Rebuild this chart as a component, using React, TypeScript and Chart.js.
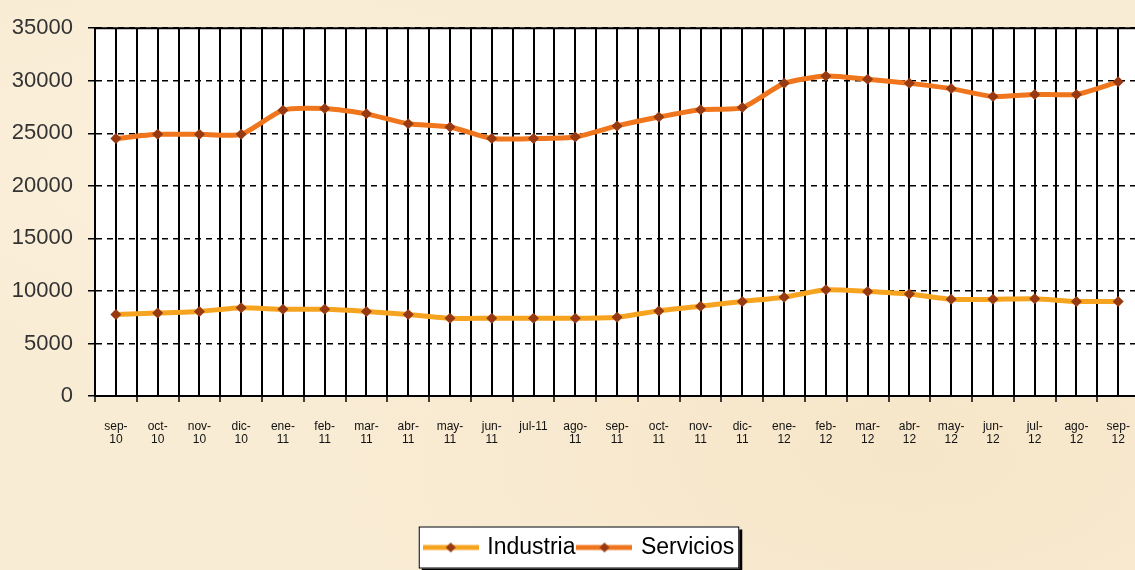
import { useEffect, useRef } from 'react';
import { Chart, registerables } from 'chart.js';

Chart.register(...registerables);

const categories = [
  'sep-10', 'oct-10', 'nov-10', 'dic-10', 'ene-11', 'feb-11', 'mar-11', 'abr-11', 'may-11',
  'jun-11', 'jul-11', 'ago-11', 'sep-11', 'oct-11', 'nov-11', 'dic-11', 'ene-12', 'feb-12',
  'mar-12', 'abr-12', 'may-12', 'jun-12', 'jul-12', 'ago-12', 'sep-12',
];

const tickLabels: (string | string[])[] = [
  ['sep-', '10'], ['oct-', '10'], ['nov-', '10'], ['dic-', '10'], ['ene-', '11'], ['feb-', '11'],
  ['mar-', '11'], ['abr-', '11'], ['may-', '11'], ['jun-', '11'], 'jul-11', ['ago-', '11'],
  ['sep-', '11'], ['oct-', '11'], ['nov-', '11'], ['dic-', '11'], ['ene-', '12'], ['feb-', '12'],
  ['mar-', '12'], ['abr-', '12'], ['may-', '12'], ['jun-', '12'], ['jul-', '12'], ['ago-', '12'],
  ['sep-', '12'],
];

const industria = [
  7750, 7900, 8050, 8400, 8250, 8250, 8050, 7750, 7400, 7400, 7400, 7400, 7500,
  8100, 8550, 9000, 9400, 10100, 9950, 9700, 9200, 9200, 9250, 9000, 9000,
];

const servicios = [
  24500, 24900, 24900, 24900, 27200, 27350, 26850, 25900, 25600, 24500, 24500, 24650, 25700,
  26550, 27250, 27450, 29750, 30450, 30150, 29750, 29250, 28500, 28700, 28700, 29900,
];

const seriesNames = ['Industria', 'Servicios'];

const Y_MIN = 0;
const Y_MAX = 35000;
const Y_STEP = 5000;

const COLOR_IND = '#F6A420';
const COLOR_SER = '#F0761E';
const MARKER = '#973A12';
const BG = '#F9ECD4';

const W = 1148;
const H = 570;

export default function App() {
  const ref = useRef<HTMLCanvasElement | null>(null);

  useEffect(() => {
    const canvas = ref.current;
    if (!canvas) return;

    const makeSample = (color: string) => {
      const c = document.createElement('canvas');
      c.width = 56;
      c.height = 14;
      const g = c.getContext('2d')!;
      g.strokeStyle = color;
      g.lineWidth = 5;
      g.beginPath();
      g.moveTo(0, 7);
      g.lineTo(56, 7);
      g.stroke();
      g.fillStyle = MARKER;
      g.beginPath();
      g.moveTo(28, 2);
      g.lineTo(33, 7);
      g.lineTo(28, 12);
      g.lineTo(23, 7);
      g.closePath();
      g.fill();
      return c;
    };
    const samples = [makeSample(COLOR_IND), makeSample(COLOR_SER)];

    const layoutPlugin = {
      id: 'layoutPatch',
      beforeInit(chart: any) {
        const legend = chart.legend;
        if (legend) {
          const orig = legend.fit;
          legend.fit = function () {
            orig.call(this);
            this.height = 38;
          };
        }
      },
    };

    const bgPlugin = {
      id: 'bgPlugin',
      beforeDraw(chart: any) {
        const { ctx, chartArea } = chart;
        ctx.save();
        ctx.fillStyle = '#FFFFFF';
        ctx.fillRect(chartArea.left, chartArea.top, chartArea.right - chartArea.left, chartArea.bottom - chartArea.top);
        const hb = chart.legend?.legendHitBoxes;
        if (hb && hb.length) {
          const first = hb[0];
          const last = hb[hb.length - 1];
          const left = first.left - 7;
          const right = last.left + last.width + 5;
          const cy = first.top + first.height / 2;
          const top = cy - 21;
          const bottom = cy + 21;
          ctx.fillStyle = '#000';
          ctx.fillRect(left + 3, top + 3, right - left, bottom - top);
          ctx.fillStyle = '#FFFFFF';
          ctx.fillRect(left, top, right - left, bottom - top);
          ctx.strokeStyle = '#000';
          ctx.lineWidth = 1;
          ctx.strokeRect(left + 0.5, top + 0.5, right - left - 1, bottom - top - 1);
        }
        ctx.restore();
      },
      beforeDatasetsDraw(chart: any) {
        const { ctx, chartArea } = chart;
        const x = chart.scales.x;
        ctx.save();
        ctx.strokeStyle = '#000';
        ctx.lineWidth = 2;
        categories.forEach((_, i) => {
          const px = Math.round(x.getPixelForValue(i));
          ctx.beginPath();
          ctx.moveTo(px, chartArea.top);
          ctx.lineTo(px, chartArea.bottom);
          ctx.stroke();
        });
        ctx.beginPath();
        ctx.moveTo(chartArea.left, chartArea.top);
        ctx.lineTo(chartArea.right, chartArea.top);
        ctx.stroke();
        ctx.restore();
      },
    };

    const chart = new Chart(canvas, {
      type: 'line',
      data: {
        labels: categories,
        datasets: [
          {
            label: seriesNames[0],
            data: industria,
            borderColor: COLOR_IND,
            backgroundColor: MARKER,
            borderWidth: 5,
            pointStyle: 'rectRot',
            pointRadius: 5.5,
            pointBackgroundColor: MARKER,
            pointBorderColor: MARKER,
            pointBorderWidth: 0,
            tension: 0.2,
          },
          {
            label: seriesNames[1],
            data: servicios,
            borderColor: COLOR_SER,
            backgroundColor: MARKER,
            borderWidth: 5,
            pointStyle: 'rectRot',
            pointRadius: 5.5,
            pointBackgroundColor: MARKER,
            pointBorderColor: MARKER,
            pointBorderWidth: 0,
            tension: 0.2,
          },
        ],
      },
      options: {
        animation: false,
        responsive: false,
        devicePixelRatio: 1,
        layout: { padding: { left: 12, top: 24, right: 0, bottom: 0 } },
        plugins: {
          tooltip: { enabled: false },
          legend: {
            position: 'bottom',
            labels: {
              usePointStyle: true,
              pointStyleWidth: 50,
              padding: 4,
              color: '#111',
              font: { size: 23, family: '"Liberation Sans", Arial, sans-serif' },
              generateLabels: () =>
                seriesNames.map((name, i) => ({
                  text: name,
                  pointStyle: samples[i] as any,
                  fillStyle: MARKER,
                  strokeStyle: MARKER,
                  lineWidth: 0,
                  hidden: false,
                  datasetIndex: i,
                })),
            },
          },
        },
        scales: {
          x: {
            type: 'category',
            offset: true,
            grid: {
              offset: true,
              color: '#000',
              lineWidth: 2,
              tickLength: 6,
              tickColor: '#000',
              tickWidth: 1.5,
            },
            border: { display: true, color: '#000', width: 2 },
            ticks: {
              autoSkip: false,
              maxRotation: 0,
              minRotation: 0,
              padding: 18,
              color: '#111',
              font: { size: 12, family: '"Liberation Sans", Arial, sans-serif', lineHeight: 1.1 },
              callback: (_v: any, i: number) => tickLabels[i],
            },
            afterFit: (scale: any) => {
              scale.height = 136;
            },
          },
          y: {
            min: Y_MIN,
            max: Y_MAX,
            ticks: {
              stepSize: Y_STEP,
              padding: 15,
              color: '#333',
              font: { size: 22, family: '"Liberation Sans", Arial, sans-serif' },
              callback: (v: any) => String(v),
            },
            grid: {
              color: '#000',
              lineWidth: 1.5,
              tickBorderDash: [],
              tickLength: 7,
              tickColor: '#000',
              tickWidth: 1.5,
            },
            border: { display: true, color: '#000', width: 2, dash: [6, 5] },
            afterFit: (scale: any) => {
              scale.width = 83;
            },
          },
        },
      },
      plugins: [layoutPlugin, bgPlugin],
    });

    return () => chart.destroy();
  }, []);

  return (
    <div
      style={{
        position: 'fixed',
        left: 0,
        top: 0,
        width: 1135,
        height: 570,
        overflow: 'hidden',
        background: `radial-gradient(ellipse at 20% 30%, #FBF0DC 0%, rgba(251,240,220,0) 40%), radial-gradient(ellipse at 80% 80%, #F6E6C9 0%, rgba(246,230,201,0) 45%), ${BG}`,
      }}
    >
      <canvas ref={ref} width={W} height={H} style={{ display: 'block', width: W, height: H }} />
    </div>
  );
}
